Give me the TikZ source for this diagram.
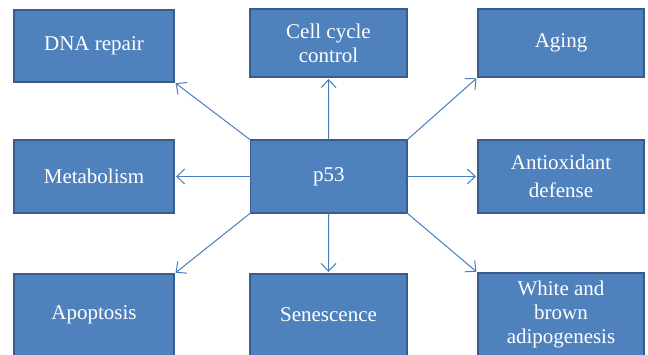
\documentclass[tikz,border=0pt]{standalone}
\usepackage{fontspec}
\setmainfont{Liberation Serif}
\usetikzlibrary{arrows.meta}
\definecolor{boxfill}{HTML}{4F81BD}
\definecolor{boxline}{HTML}{385D8A}
\definecolor{arrline}{HTML}{4A7EBB}
\begin{document}
\begin{tikzpicture}[x=1pt,y=-1pt,
  box/.style={draw=boxline,fill=boxfill,line width=1.2pt,text=white,
    font=\fontsize{21}{24}\selectfont,align=center,inner sep=0pt,outer sep=0pt},
  arr/.style={draw=arrline,line width=1pt,-{Straight Barb[length=8pt,width=15pt,line width=1pt]},shorten >=2pt}]
\useasboundingbox (0,0) rectangle (648,355);
\clip (0,0) rectangle (648,355);
\node[box,minimum width=160pt,minimum height=72pt] (dna) at (94,46) {DNA repair};
\node[box,minimum width=157pt,minimum height=68pt] (cell) at (328.5,43) {Cell cycle\\control};
\node[box,minimum width=166pt,minimum height=68pt] (aging) at (561,43) {Aging};
\node[box,minimum width=160pt,minimum height=73pt] (meta) at (94,176.5) {Metabolism};
\node[box,minimum width=156.5pt,minimum height=73pt] (p53) at (328.75,176.5) {p53};
\node[box,minimum width=166pt,minimum height=73pt] (anti) at (561,176.5) {Antioxidant\\[4pt]defense};
\node[box,minimum width=160pt,minimum height=82pt] (apop) at (94,315) {Apoptosis};
\node[box,minimum width=157pt,minimum height=82pt] (sen) at (328.5,315) {Senescence};
\node[box,minimum width=166pt,minimum height=83pt] (white) at (561,314.5) {White and\\brown\\adipogenesis};
\draw[arr] (p53.north west) -- (dna.south east);
\draw[arr] (p53.north) -- (cell.south);
\draw[arr] (p53.north east) -- (aging.south west);
\draw[arr] (p53.west) -- (meta.east);
\draw[arr] (p53.east) -- (anti.west);
\draw[arr] (p53.south west) -- (apop.north east);
\draw[arr] (p53.south) -- (sen.north);
\draw[arr] (p53.south east) -- (white.north west);
\end{tikzpicture}
\end{document}
